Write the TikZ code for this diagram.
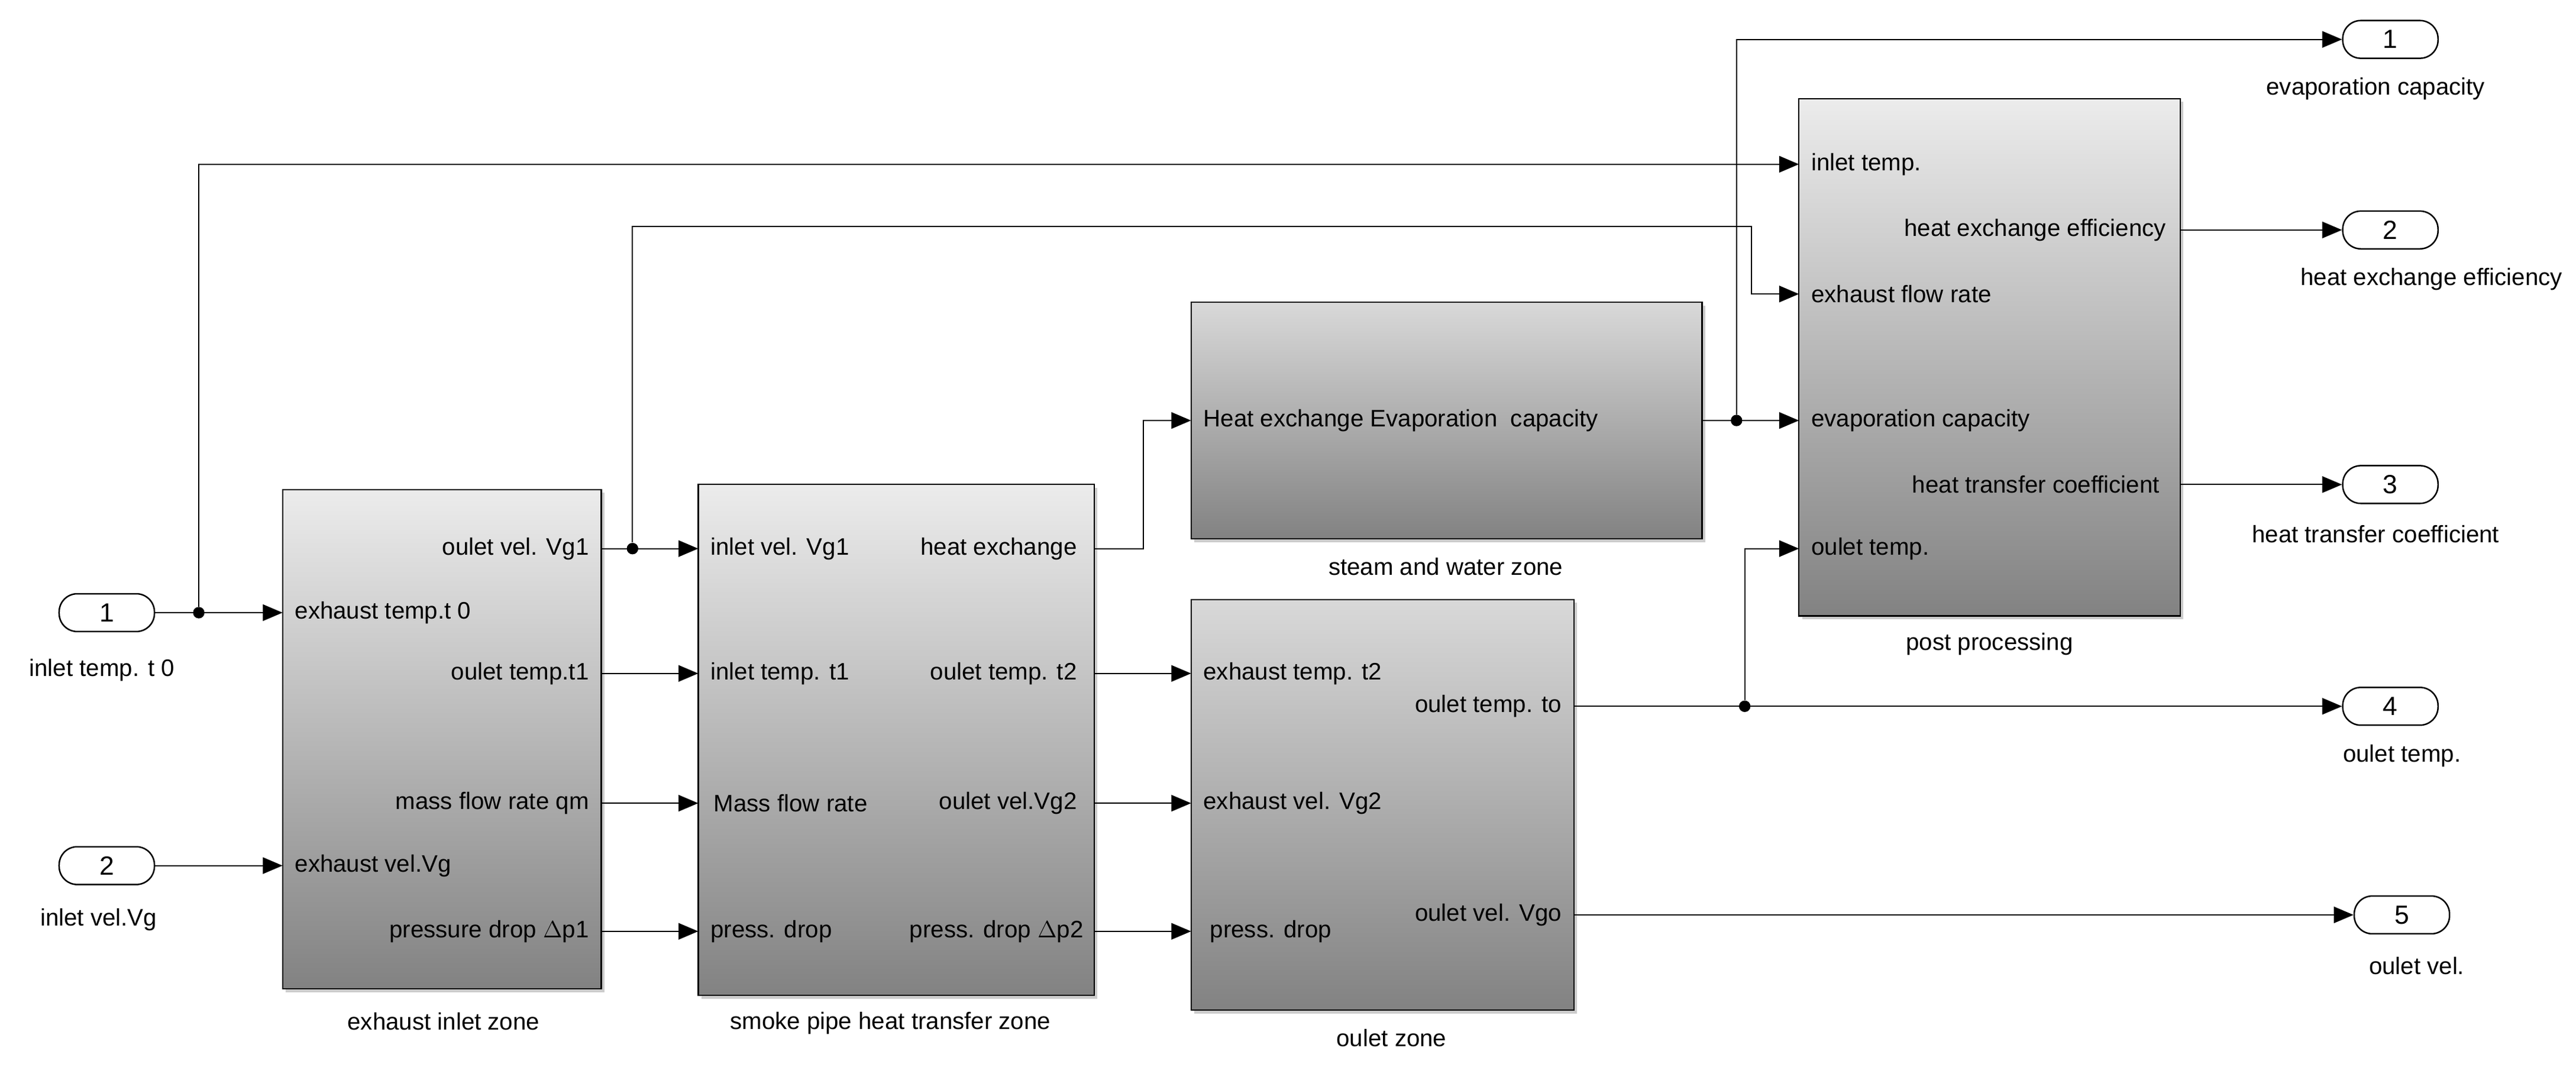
\documentclass[tikz,border=0pt]{standalone}
\usepackage{fontspec}
\setmainfont{Liberation Sans}
\usetikzlibrary{arrows.meta,shadows}
\begin{document}
\begin{tikzpicture}[x=1pt,y=-1pt,
  every node/.style={font=\fontsize{14.5}{17}\selectfont},
  blk/.style={draw=black,line width=0.8pt,top color=#1,bottom color=gray!60!black!70,drop shadow={shadow xshift=2pt,shadow yshift=-2pt,opacity=0.4}},
  blk/.default={gray!15},
  port/.style={draw=black,line width=0.9pt,rounded corners=11pt,minimum width=58pt,minimum height=23pt,inner sep=0pt,fill=white,font=\fontsize{16}{18}\selectfont},
  wire/.style={line width=0.8pt,-{Triangle[length=12pt,width=10pt]}},
  line/.style={line width=0.8pt},
  dot/.style={circle,fill=black,inner sep=0pt,minimum size=7pt},
  inl/.style={anchor=west},
  outl/.style={anchor=east}]
\useasboundingbox (0,0) rectangle (1568,652);
% blocks
\path[blk] (172,298) rectangle (366,602);
\path[blk] (425,295) rectangle (666,606);
\path[blk=gray!30] (725,184) rectangle (1036,328);
\path[blk=gray!30] (725,365) rectangle (958,615);
\path[blk] (1095,60) rectangle (1327,375);
\node at (270,622) {exhaust inlet zone};
\node at (542,623) {smoke pipe heat transfer zone};
\node at (880,345) {steam and water zone};
\node at (847,632) {oulet zone};
\node at (1211,392) {post processing};
% port coordinates
\coordinate (Ai1) at (172,373); \coordinate (Ai2) at (172,527);
\coordinate (Ao1) at (366,334); \coordinate (Ao2) at (366,410);
\coordinate (Ao3) at (366,489); \coordinate (Ao4) at (366,567);
\coordinate (Bi1) at (425,334); \coordinate (Bi2) at (425,410);
\coordinate (Bi3) at (425,489); \coordinate (Bi4) at (425,567);
\coordinate (Bo1) at (666,334); \coordinate (Bo2) at (666,410);
\coordinate (Bo3) at (666,489); \coordinate (Bo4) at (666,567);
\coordinate (Ci) at (725,256); \coordinate (Co) at (1036,256);
\coordinate (Di1) at (725,410); \coordinate (Di2) at (725,489); \coordinate (Di3) at (725,567);
\coordinate (Do1) at (958,430); \coordinate (Do2) at (958,557);
\coordinate (Ei1) at (1095,100); \coordinate (Ei2) at (1095,179);
\coordinate (Ei3) at (1095,256); \coordinate (Ei4) at (1095,334);
\coordinate (Eo1) at (1327,140); \coordinate (Eo2) at (1327,295);
% port labels
\node[inl] at (176,373) {exhaust temp.t 0};
\node[inl] at (176,527) {exhaust vel.Vg};
\node[outl] at (362,334) {oulet vel. Vg1};
\node[outl] at (362,410) {oulet temp.t1};
\node[outl] at (362,489) {mass flow rate qm};
\node[outl] at (362,567) {pressure drop $\Delta$p1};
\node[inl] at (429,334) {inlet vel. Vg1};
\node[inl] at (429,410) {inlet temp. t1};
\node[inl] at (431,489) {Mass flow rate};
\node[inl] at (429,567) {press. drop};
\node[outl] at (659,334) {heat exchange};
\node[outl] at (659,410) {oulet temp. t2};
\node[outl] at (659,489) {oulet vel.Vg2};
\node[outl] at (663,567) {press. drop $\Delta$p2};
\node[inl] at (729,256) {Heat exchange Evaporation\ \ capacity};
\node[inl] at (729,410) {exhaust temp. t2};
\node[inl] at (729,489) {exhaust vel. Vg2};
\node[inl] at (733,567) {press. drop};
\node[outl] at (954,430) {oulet temp. to};
\node[outl] at (954,557) {oulet vel. Vgo};
\node[inl] at (1099,100) {inlet temp.};
\node[inl] at (1099,179) {exhaust flow rate};
\node[inl] at (1099,256) {evaporation capacity};
\node[inl] at (1099,334) {oulet temp.};
\node[outl] at (1322,140) {heat exchange efficiency};
\node[outl] at (1318,295) {heat transfer coefficient};
% in/out ports
\node[port] (in1) at (65,373) {1};
\node[port] (in2) at (65,527) {2};
\node at (62,408) {inlet temp. t 0};
\node at (60,560) {inlet vel.Vg};
\node[port] (out1) at (1455,24) {1};
\node[port] (out2) at (1455,140) {2};
\node[port] (out3) at (1455,295) {3};
\node[port] (out4) at (1455,430) {4};
\node[port] (out5) at (1462,557) {5};
\node at (1446,54) {evaporation capacity};
\node at (1480,170) {heat exchange efficiency};
\node at (1446,325) {heat transfer coefficient};
\node at (1462,460) {oulet temp.};
\node at (1471,588) {oulet vel.};
% junctions
\node[dot] (j1) at (121,373) {};
\node[dot] (j2) at (385,334) {};
\node[dot] (j3) at (1057,256) {};
\node[dot] (j4) at (1062,430) {};
% wires
\draw[wire] (in1) -- (Ai1);
\draw[wire] (j1) |- (Ei1);
\draw[wire] (in2) -- (Ai2);
\draw[wire] (Ao1) -- (Bi1);
\draw[wire] (j2) |- (1066,138) |- (Ei2);
\draw[wire] (Ao2) -- (Bi2);
\draw[wire] (Ao3) -- (Bi3);
\draw[wire] (Ao4) -- (Bi4);
\draw[wire] (Bo1) -| (696,300) |- (Ci);
\draw[wire] (Bo2) -- (Di1);
\draw[wire] (Bo3) -- (Di2);
\draw[wire] (Bo4) -- (Di3);
\draw[wire] (Co) -- (Ei3);
\draw[wire] (j3) |- (out1.west);
\draw[wire] (Do1) -- (out4.west);
\draw[wire] (j4) |- (Ei4);
\draw[wire] (Do2) -- (out5.west);
\draw[wire] (Eo1) -- (out2.west);
\draw[wire] (Eo2) -- (out3.west);
\end{tikzpicture}
\end{document}
